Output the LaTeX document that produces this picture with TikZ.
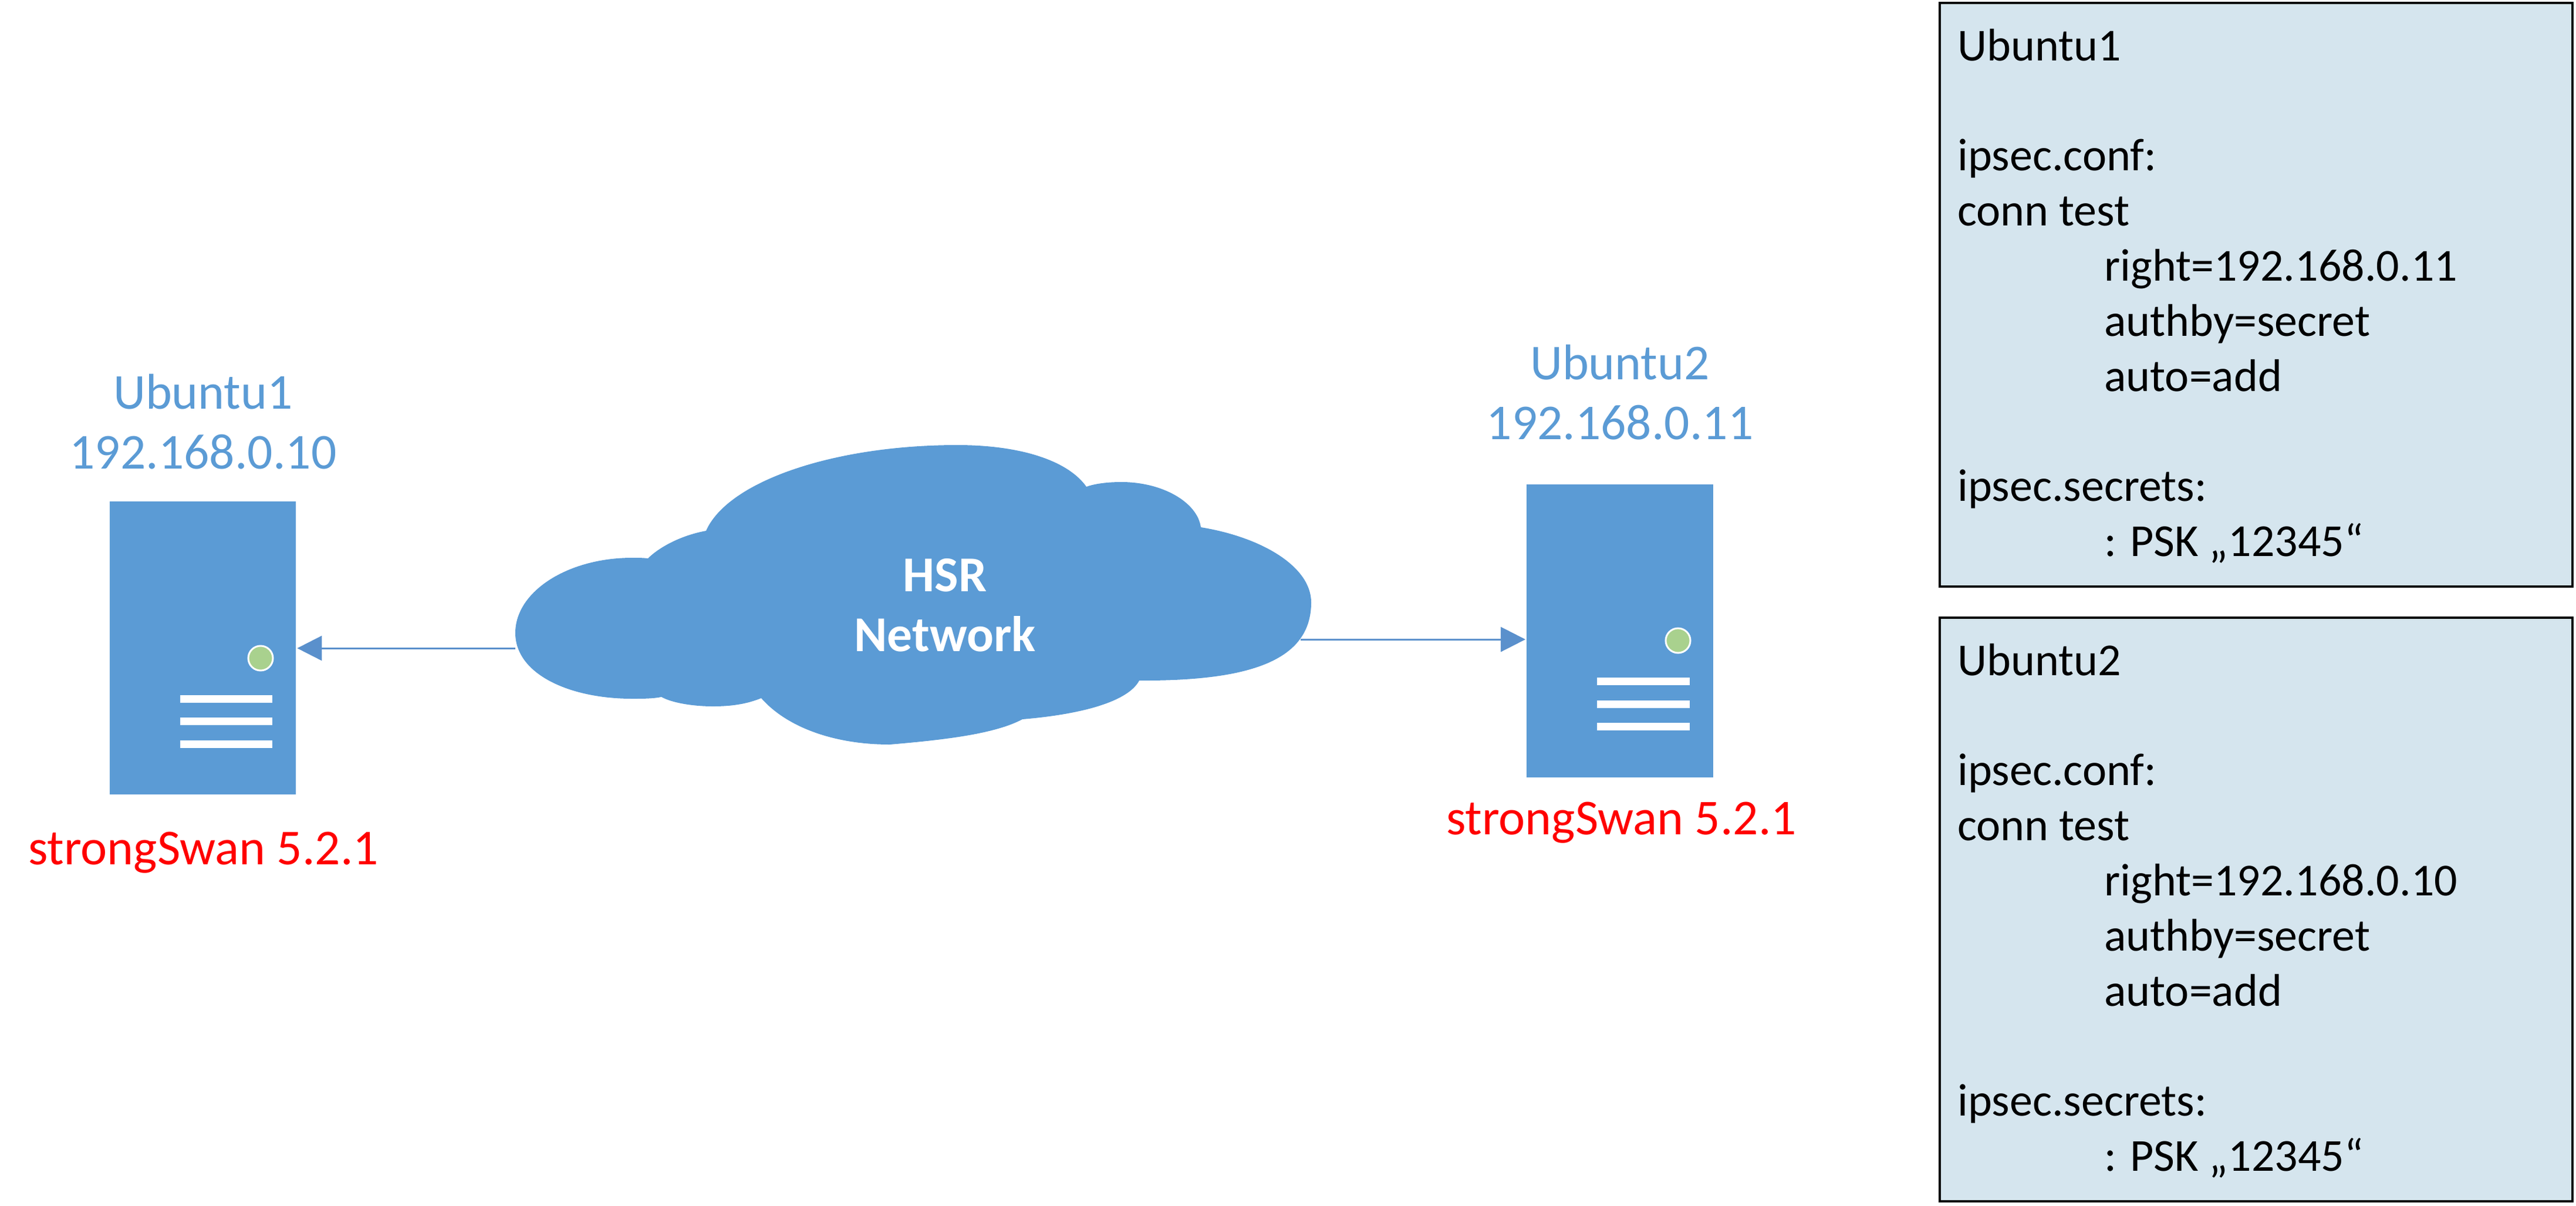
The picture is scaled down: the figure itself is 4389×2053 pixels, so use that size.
\documentclass[tikz,border=0pt]{standalone}
\usepackage{fontspec}
\setmainfont{Carlito}
\usetikzlibrary{arrows.meta}
\definecolor{netblue}{HTML}{5B9BD5}
\definecolor{connblue}{HTML}{5A90CC}
\definecolor{ledgreen}{HTML}{A9D18E}
\definecolor{cfgfill}{HTML}{D5E5EE}
\tikzset{
  server/.style={fill=netblue,draw=none,anchor=north west,inner sep=0pt},
  srvbar/.style={fill=white,draw=none},
  led/.style={circle,fill=ledgreen,draw=white,line width=3pt,minimum size=42pt,inner sep=0pt},
  hostlabel/.style={text=netblue,font=\fontsize{85.5}{102}\selectfont,align=center,inner sep=0pt,anchor=base},
  swanlabel/.style={text=red,font=\fontsize{85.5}{102}\selectfont,inner sep=0pt,anchor=base west},
  nettext/.style={text=white,font=\fontsize{85.5}{102}\selectfont\bfseries,align=center,inner sep=0pt},
  conn/.style={draw=connblue,line width=3pt,-{Triangle[length=42pt,width=42pt]},shorten >=2pt},
  cfgbox/.style={fill=cfgfill,draw=black,line width=3.5pt,anchor=north west,inner sep=0pt,minimum width=1078pt,minimum height=994pt},
  cfgtext/.style={font=\fontsize{78}{93.8}\selectfont,align=left,anchor=north west,inner sep=0pt}
}
\newcommand{\ind}{\hspace*{250pt}}
\begin{document}
\begin{tikzpicture}[x=1pt,y=-1pt]
\useasboundingbox (0,0) rectangle (4389,2053);
% cloud
\fill[netblue] (1104,951) .. controls (1095,950) and (1086,950) .. (1077,950)
 .. controls (968,950) and (878,1007) .. (878,1078)
 .. controls (878,1148) and (970,1190) .. (1077,1190)
 .. controls (1095,1190) and (1112,1190) .. (1127,1187)
 .. controls (1145,1197) and (1180,1203) .. (1215,1203)
 .. controls (1250,1203) and (1275,1198) .. (1297,1189)
 .. controls (1340,1238) and (1420,1268) .. (1516,1268)
 .. controls (1610,1260) and (1695,1250) .. (1742,1225)
 .. controls (1860,1215) and (1925,1190) .. (1941,1159)
 .. controls (2130,1160) and (2234,1125) .. (2234,1026)
 .. controls (2234,965) and (2150,915) .. (2046,898)
 .. controls (2040,855) and (1980,821) .. (1911,821)
 .. controls (1885,821) and (1865,824) .. (1851,829)
 .. controls (1820,785) and (1740,758) .. (1631,758)
 .. controls (1420,758) and (1240,820) .. (1203,904)
 .. controls (1155,913) and (1120,935) .. (1104,951) -- cycle;
\node[nettext] (cloud) at (1610,1031) {HSR\\Network};
\coordinate (cL) at (878,1104);
\coordinate (cR) at (2216,1089);
% server 1
\node[server,minimum width=317pt,minimum height=499pt] (srv1) at (187,854) {};
\node[led] (led1) at (444,1121) {};
\fill[srvbar] (307,1183.5) rectangle (464,1196.5);
\fill[srvbar] (307,1221.5) rectangle (464,1234.5);
\fill[srvbar] (307,1260.5) rectangle (464,1273.5);
\node[hostlabel] (lab1) at (346,798) {Ubuntu1\\192.168.0.10};
\node[swanlabel] (swan1) at (48,1472) {strongSwan 5.2.1};
% server 2
\node[server,minimum width=318pt,minimum height=499pt] (srv2) at (2601,825) {};
\node[led] (led2) at (2859,1091) {};
\fill[srvbar] (2721,1153.5) rectangle (2879,1166.5);
\fill[srvbar] (2721,1192.5) rectangle (2879,1205.5);
\fill[srvbar] (2721,1230.5) rectangle (2879,1243.5);
\node[hostlabel] (lab2) at (2760,748) {Ubuntu2\\192.168.0.11};
\node[swanlabel] (swan2) at (2464,1421) {strongSwan 5.2.1};
% connectors
\draw[conn] (cL) -- (cL -| srv1.east);
\draw[conn] (cR) -- (cR -| srv2.west);
% config boxes
\node[cfgbox] (cfg1) at (3303,3) {};
\node[cfgtext] (txt1) at (3335,49) {Ubuntu1\\\mbox{}\\ipsec.conf:\\conn test\\\ind right=192.168.0.11\\\ind authby=secret\\\ind auto=add\\\mbox{}\\ipsec.secrets:\\\ind : PSK „12345“};
\node[cfgbox] (cfg2) at (3303,1050) {};
\node[cfgtext] (txt2) at (3335,1096) {Ubuntu2\\\mbox{}\\ipsec.conf:\\conn test\\\ind right=192.168.0.10\\\ind authby=secret\\\ind auto=add\\\mbox{}\\ipsec.secrets:\\\ind : PSK „12345“};
\end{tikzpicture}
\end{document}
